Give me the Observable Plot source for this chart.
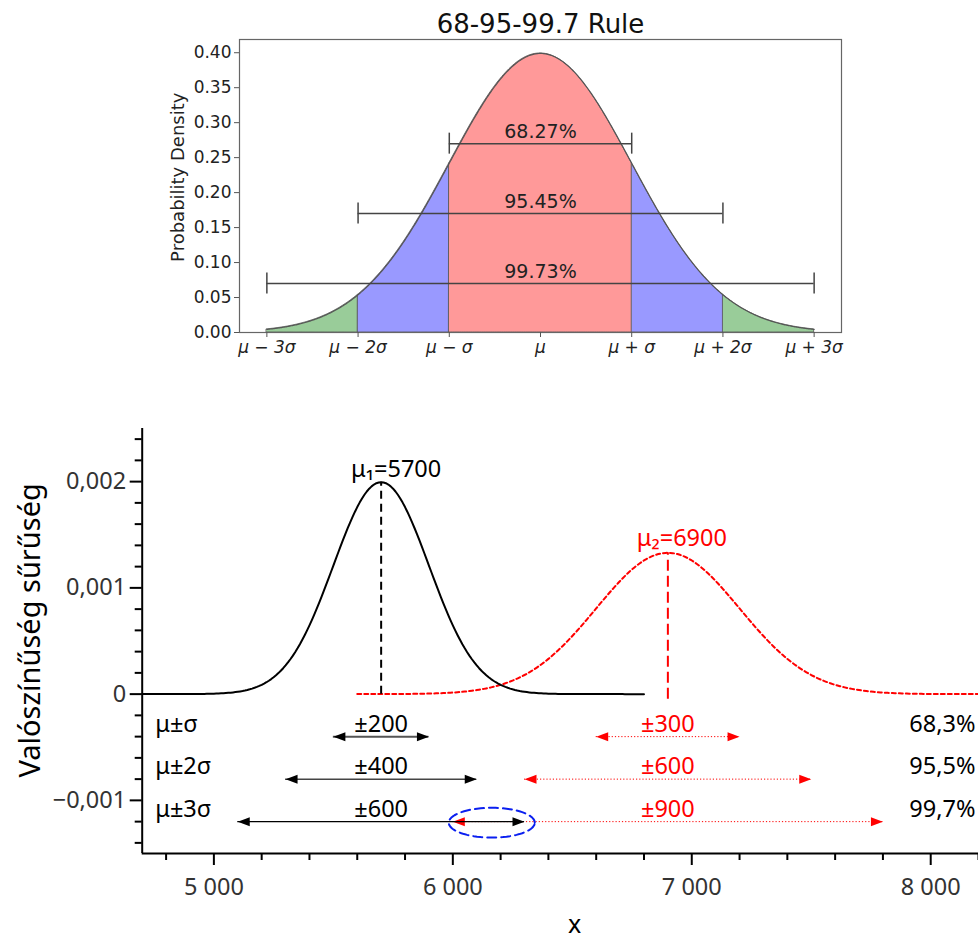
<!DOCTYPE html>
<html><head><meta charset="utf-8">
<script src="https://cdn.jsdelivr.net/npm/d3@7"></script>
<script src="https://cdn.jsdelivr.net/npm/@observablehq/plot@0.6"></script>
<style>
body{margin:0;background:#fff;}
#top svg,#bottom svg{display:block;overflow:visible;}
</style>
</head><body><div id="top"></div><div id="bottom"></div>
<script>
// ---------- Top chart (68-95-99.7 rule) ----------
const sigmaTicks = [-3, -2, -1, 0, 1, 2, 3];
const sigmaTickLabels = ["μ − 3σ", "μ − 2σ", "μ − σ", "μ", "μ + σ", "μ + 2σ", "μ + 3σ"];
const densityTicks = [0, 0.05, 0.10, 0.15, 0.20, 0.25, 0.30, 0.35, 0.40];
const bandEdges = [[-3, -2], [-2, -1], [-1, 1], [1, 2], [2, 3]];
const bandNames = ["tail", "mid", "core", "mid", "tail"];
const ruleLabels = ["68.27%", "95.45%", "99.73%"];
const ruleHalfWidths = [1, 2, 3];
const ruleHeights = [0.27, 0.17, 0.07];
const topTitle = "68-95-99.7 Rule";
const topYLabel = "Probability Density";

// ---------- Bottom chart (two normal distributions) ----------
const means = [5700, 6900];
const sigmas = [200, 300];
const meanLabels = ["μ₁=5700", "μ₂=6900"];
const curveRanges = [[4700, 6800], [5600, 8200]];
const rowLabels = ["μ±σ", "μ±2σ", "μ±3σ"];
const rowPercents = ["68,3%", "95,5%", "99,7%"];
const sigmaMultiples = [1, 2, 3];
const rowLevels = [-0.0004, -0.0008, -0.0012];
const xTicksMajor = [5000, 6000, 7000, 8000];
const xTicksMinor = [4800, 5200, 5400, 5600, 5800, 6200, 6400, 6600, 6800, 7200, 7400, 7600, 7800, 8200];
const yTicksMajor = [-0.001, 0, 0.001, 0.002];
const yTicksMinor = [-0.0014, -0.0012, -0.0008, -0.0006, -0.0004, -0.0002, 0.0002, 0.0004, 0.0006, 0.0008, 0.0012, 0.0014, 0.0016, 0.0018, 0.0022, 0.0024];
const highlightCenter = [6163, -0.00121];
const highlightRadii = [180, 0.00014];
const bottomYLabel = "Valószínűség sűrűség";
const bottomXLabel = "x";

// ---------- Top chart build ----------
const stdPdf = x => Math.exp(-x * x / 2) / Math.sqrt(2 * Math.PI);
const bandPts = bandEdges.flatMap(([a, b], i) =>
  d3.range(0, 101).map(j => { const x = a + (b - a) * j / 100; return {band: i, name: bandNames[i], x, y: stdPdf(x)}; }));
const curvePts = d3.range(0, 601).map(j => { const x = -3 + j * 0.01; return {x, y: stdPdf(x)}; });
const errRows = ruleLabels.map((label, i) => ({label, x1: -ruleHalfWidths[i], x2: ruleHalfWidths[i], y: ruleHeights[i]}));
const caps = errRows.flatMap(r => [r.x1, r.x2].map(x => ({x, y: r.y})));
const bandColor = {tail: "#99cc99", mid: "#9999ff", core: "#ff9999"};

const topChart = Plot.plot({
  width: 978, height: 380,
  marginLeft: 239, marginRight: 137, marginTop: 39, marginBottom: 48,
  x: {domain: [-3.3, 3.3], label: null},
  y: {domain: [0, 0.4189], label: null},
  style: {fontFamily: "DejaVu Sans", fontSize: "17px", color: "#222", background: "transparent"},
  marks: [
    ...["tail", "mid", "core"].map(n =>
      Plot.areaY(bandPts.filter(d => d.name === n), {x: "x", y: "y", z: "band", fill: bandColor[n], stroke: "#555", strokeWidth: 0.8})),
    Plot.line(curvePts, {x: "x", y: "y", stroke: "#555", strokeWidth: 1.2}),
    Plot.ruleY(errRows, {x1: "x1", x2: "x2", y: "y", stroke: "#444", strokeWidth: 1.5}),
    Plot.ruleX(caps, {x: "x", y1: d => d.y - 0.015, y2: d => d.y + 0.015, stroke: "#444", strokeWidth: 1.5}),
    Plot.text(errRows, {x: d => (d.x1 + d.x2) / 2, y: "y", text: "label", dy: -6, lineAnchor: "bottom", fontSize: 19, fill: "#222"}),
    Plot.frame({stroke: "#666", strokeWidth: 1.2}),
    Plot.axisY(densityTicks, {tickSize: 5, tickPadding: 3, tickFormat: d => d.toFixed(2), fontSize: 17, stroke: "#555", fill: "#222", label: null}),
    Plot.axisX(sigmaTicks, {tickSize: 5, tickPadding: 3.5, tickFormat: d => sigmaTickLabels[sigmaTicks.indexOf(d)], fontSize: 17, fontStyle: "italic", stroke: "#555", fill: "#222", label: null}),
    Plot.text([topTitle], {frameAnchor: "top", dy: -7, lineAnchor: "bottom", fontSize: 26, fill: "#111"}),
    Plot.text([topYLabel], {frameAnchor: "left", y: 0.222, dx: -61, rotate: -90, fontSize: 18, textAnchor: "middle", lineAnchor: "middle", fill: "#222"})
  ]
});
document.getElementById("top").append(topChart);

// ---------- Bottom chart build ----------
const pdf = (x, m, s) => Math.exp(-((x - m) ** 2) / (2 * s * s)) / (s * Math.sqrt(2 * Math.PI));
const curves = means.map((m, i) =>
  d3.range(curveRanges[i][0], curveRanges[i][1] + 1, 10).map(x => ({x, y: pdf(x, m, sigmas[i])})));
const arrows = means.map((m, i) => sigmaMultiples.map((k, r) =>
  ({x1: m - k * sigmas[i], x2: m + k * sigmas[i], mid: m, y: rowLevels[r], label: "±" + (k * sigmas[i]), row: r})));
const meanRules = means.map((m, i) => ({x: m, y2: pdf(m, m, sigmas[i]), label: meanLabels[i]}));
const rows = rowLabels.map((label, r) => ({label, pct: rowPercents[r], y: rowLevels[r]}));
const ellipsePts = d3.range(0, 72).map(j => {
  const t = j / 72 * 2 * Math.PI;
  return {x: highlightCenter[0] + highlightRadii[0] * Math.cos(t), y: highlightCenter[1] + highlightRadii[1] * Math.sin(t)};
});
const headRight = {draw(ctx) { ctx.moveTo(0, 0); ctx.lineTo(-12, -4.5); ctx.lineTo(-12, 4.5); ctx.closePath(); }};
const headLeft = {draw(ctx) { ctx.moveTo(0, 0); ctx.lineTo(12, -4.5); ctx.lineTo(12, 4.5); ctx.closePath(); }};
const fmtX = d => String(d).replace(/\B(?=(\d{3})+$)/g, " ");
const fmtY = d => d === 0 ? "0" : (d < 0 ? "−" : "") + Math.abs(d).toFixed(3).replace(".", ",");
const blackArrowWidth = [2, 1.5, 1.2];
const blackArrowColor = ["#555", "#444", "#000"];
const fs = 23.5;

const bottomChart = Plot.plot({
  width: 978, height: 559,
  marginLeft: 141.7, marginRight: 0, marginTop: 48, marginBottom: 86,
  x: {domain: [4700, 8200], label: null},
  y: {domain: [-0.0015, 0.0025], label: null},
  style: {fontFamily: "Noto Sans", fontSize: fs + "px", color: "#000", background: "transparent"},
  marks: [
    // curves
    Plot.line(curves[1], {x: "x", y: "y", stroke: "#ff0000", strokeWidth: 2, strokeDasharray: "4,3"}),
    Plot.line(curves[0], {x: "x", y: "y", stroke: "#000", strokeWidth: 2}),
    Plot.ruleX([meanRules[0]], {x: "x", y1: 0, y2: "y2", stroke: "#000", strokeWidth: 2, strokeDasharray: "8,5"}),
    Plot.ruleX([meanRules[1]], {x: "x", y1: 0, y2: "y2", insetTop: 5, stroke: "#ff0000", strokeWidth: 2, strokeDasharray: "11,5"}),
    Plot.text([meanRules[0]], {x: "x", y: "y2", text: "label", dx: 15, dy: -5, lineAnchor: "bottom", fontSize: fs, fill: "#000"}),
    Plot.text([meanRules[1]], {x: "x", y: "y2", text: "label", dx: 14, dy: -7, lineAnchor: "bottom", fontSize: fs, fill: "#ff0000"}),
    // red arrows
    Plot.ruleY(arrows[1], {x1: "x1", x2: "x2", y: "y", stroke: "#ff0000", strokeWidth: 1, strokeDasharray: "1.2,2"}),
    Plot.dot(arrows[1], {x: "x1", y: "y", symbol: headLeft, fill: "#ff0000", stroke: "none"}),
    Plot.dot(arrows[1], {x: "x2", y: "y", symbol: headRight, fill: "#ff0000", stroke: "none"}),
    Plot.text(arrows[1], {x: "mid", y: "y", text: "label", dy: -5, lineAnchor: "bottom", fontSize: fs, fill: "#ff0000"}),
    // black arrows
    Plot.ruleY(arrows[0], {x1: "x1", x2: "x2", y: "y", stroke: d => blackArrowColor[d.row], strokeWidth: d => blackArrowWidth[d.row]}),
    Plot.dot(arrows[0], {x: "x1", y: "y", symbol: headLeft, fill: "#000", stroke: "none"}),
    Plot.dot(arrows[0], {x: "x2", y: "y", symbol: headRight, fill: "#000", stroke: "none"}),
    Plot.text(arrows[0], {x: "mid", y: "y", text: "label", dy: -5, lineAnchor: "bottom", fontSize: fs, fill: "#000"}),
    // highlight ellipse
    Plot.line(ellipsePts, {x: "x", y: "y", curve: "linear-closed", stroke: "#0a1ff0", strokeWidth: 2, strokeDasharray: "9,5"}),
    // row labels
    Plot.text(rows, {frameAnchor: "left", y: "y", text: "label", dx: 13, dy: -5, lineAnchor: "bottom", textAnchor: "start", fontSize: fs, fill: "#000"}),
    Plot.text(rows, {frameAnchor: "right", y: "y", text: "pct", dx: -3, dy: -5, lineAnchor: "bottom", textAnchor: "end", fontSize: fs, fill: "#000"}),
    // axes
    Plot.ruleX([4700], {stroke: "#000", strokeWidth: 2}),
    Plot.ruleY([-0.0015], {stroke: "#000", strokeWidth: 2}),
    Plot.axisX(xTicksMajor, {tickSize: 12, tickPadding: 13, tickFormat: fmtX, fontSize: fs, stroke: "#000", strokeWidth: 2, fill: "#333", label: null}),
    Plot.axisX(xTicksMinor, {tickSize: 7, tickFormat: () => "", stroke: "#000", strokeWidth: 2, label: null}),
    Plot.axisY(yTicksMajor, {tickSize: 12, tickPadding: 4, tickFormat: fmtY, fontSize: fs, stroke: "#000", strokeWidth: 2, fill: "#333", label: null}),
    Plot.axisY(yTicksMinor, {tickSize: 7, tickFormat: () => "", stroke: "#000", strokeWidth: 2, label: null}),
    Plot.text([bottomXLabel], {x: 6510, frameAnchor: "bottom", dy: 71, lineAnchor: "middle", fontSize: 25, fill: "#000"}),
    Plot.text([bottomYLabel], {frameAnchor: "left", y: 0.0006, dx: -111, rotate: -90, textAnchor: "middle", lineAnchor: "middle", fontSize: 29, fill: "#000"})
  ]
});
document.getElementById("bottom").append(bottomChart);
</script>
</body></html>
